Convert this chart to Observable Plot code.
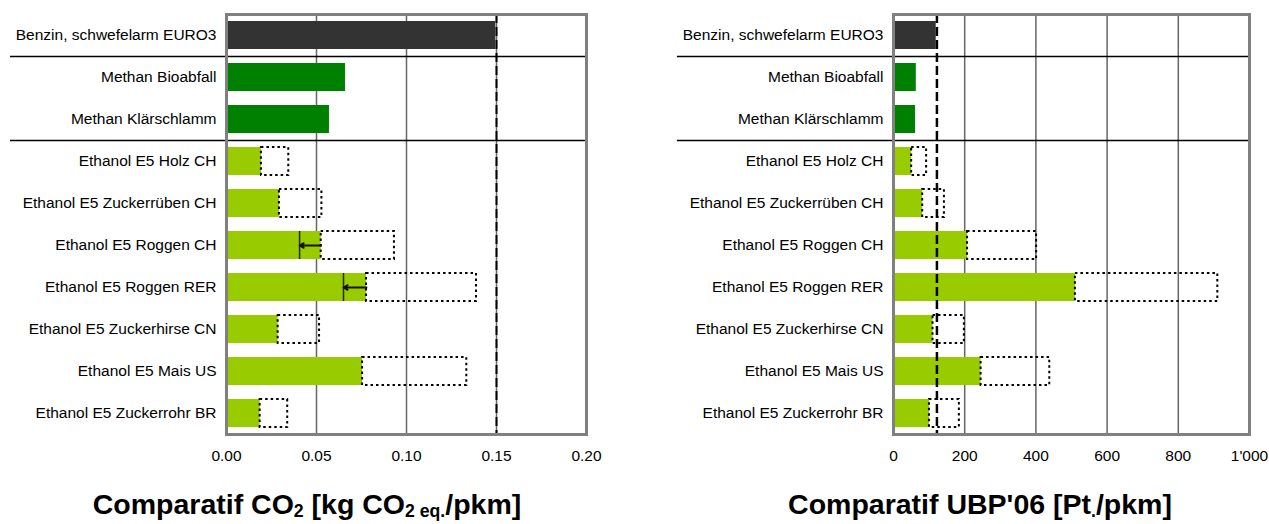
<!DOCTYPE html>
<html>
<head>
<meta charset="utf-8">
<script src="https://cdn.jsdelivr.net/npm/d3@7"></script>
<script src="https://cdn.jsdelivr.net/npm/@observablehq/plot@0.6"></script>
<style>
  html, body { margin: 0; padding: 0; background: #fff; }
  #wrap { position: relative; width: 1269px; height: 524px; overflow: hidden; font-family: "Liberation Sans", Arial, sans-serif; }
  .panel { position: absolute; top: 0; }
  .title { position: absolute; top: 489px; font-weight: bold; font-size: 28.5px; line-height: 30px; white-space: nowrap; transform: translateX(-50%); color: #000; }
  .title sub { font-size: 0.62em; vertical-align: -0.18em; line-height: 0; }
</style>
</head>
<body>
<div id="wrap">
  <div class="panel" id="left" style="left:0px"></div>
  <div class="panel" id="right" style="left:640px"></div>
  <div class="title" style="left:307px">Comparatif CO<sub>2</sub> [kg CO<sub>2 eq.</sub>/pkm]</div>
  <div class="title" style="left:980px">Comparatif UBP'06 [Pt<sub>.</sub>/pkm]</div>
</div>
<script>
// ---- data ----
const categories = [
  "Benzin, schwefelarm EURO3",
  "Methan Bioabfall",
  "Methan Klärschlamm",
  "Ethanol E5 Holz CH",
  "Ethanol E5 Zuckerrüben CH",
  "Ethanol E5 Roggen CH",
  "Ethanol E5 Roggen RER",
  "Ethanol E5 Zuckerhirse CN",
  "Ethanol E5 Mais US",
  "Ethanol E5 Zuckerrohr BR"
];
const groups = ["fossil", "methan", "methan", "ethanol", "ethanol", "ethanol", "ethanol", "ethanol", "ethanol", "ethanol"];

const co2Values = [0.1496, 0.0661, 0.0572, 0.0194, 0.0294, 0.0526, 0.0778, 0.0287, 0.0756, 0.0187];
const co2Upper  = [null, null, null, 0.0346, 0.0530, 0.0933, 0.1389, 0.0517, 0.1335, 0.0340];
const co2Arrow  = [null, null, null, null, null, 0.0406, 0.0650, null, null, null];
const co2Reference = 0.15;
const co2Ticks = [0, 0.05, 0.10, 0.15, 0.20];

const ubpValues = [120, 64, 62, 51, 82, 208, 511, 111, 246, 101];
const ubpUpper  = [null, null, null, 93, 143, 402, 911, 199, 439, 185];
const ubpReference = 122;
const ubpTicks = [0, 200, 400, 600, 800, 1000];

// separators: boundaries above these categories
const separatorsBefore = ["Methan Bioabfall", "Ethanol E5 Holz CH"];

const groupColors = {fossil: "#333333", methan: "#008000", ethanol: "#99CC00"};

// ---- build tables ----
function table(values, upper, arrow) {
  return categories.map((c, i) => ({
    cat: c, group: groups[i], value: values[i],
    upper: upper[i], arrow: arrow ? arrow[i] : null
  }));
}

function panel({data, domain, ticks, tickFormat, reference, width, marginLeft, marginRight, sepStart, refWidth}) {
  const withUpper = data.filter(d => d.upper != null);
  const withArrow = data.filter(d => d.arrow != null);
  return Plot.plot({
    width, height: 475,
    marginLeft, marginRight, marginTop: 14, marginBottom: 41,
    style: {fontFamily: "'Liberation Sans', Arial, sans-serif", fontSize: "15.5px", color: "#000", background: "#fff"},
    x: {domain, ticks, tickFormat, tickSize: 0, tickPadding: 15, label: null},
    y: {domain: categories, paddingInner: 1/3, paddingOuter: 1/6, tickSize: 0, tickPadding: 10, label: null},
    marks: [
      Plot.ruleX(ticks.slice(1, -1), {stroke: "#666", strokeWidth: 1.5}),
      Plot.barX(data, {y: "cat", x: "value", fill: d => groupColors[d.group]}),
      Plot.barX(withUpper, {y: "cat", x1: "value", x2: "upper", fill: "none", stroke: "#000", strokeWidth: 2, strokeDasharray: "2.5,3"}),
      Plot.tickX(withArrow, {y: "cat", x: "arrow", stroke: "#1f2a00", strokeWidth: 1.5}),
      Plot.arrow(withArrow, {y1: "cat", y2: "cat", x1: "value", x2: "arrow", stroke: "#111", strokeWidth: 1.8, headLength: 4, bend: 0}),
      Plot.ruleY(separatorsBefore, {y: d => d, x1: sepStart, x2: domain[1], dy: -21, stroke: "#000", strokeWidth: 1.5}),
      Plot.ruleX([reference], {stroke: "#000", strokeWidth: refWidth, strokeDasharray: "9,4"}),
      Plot.frame({stroke: "#808080", strokeWidth: 3})
    ]
  });
}

const leftChart = panel({
  data: table(co2Values, co2Upper, co2Arrow),
  domain: [0, 0.2], ticks: co2Ticks, tickFormat: d3.format(".2f"),
  reference: co2Reference,
  width: 620, marginLeft: 226, marginRight: 34,
  sepStart: -0.12, refWidth: 2
});
document.getElementById("left").appendChild(leftChart);

const apostrophe = d => d3.format(",")(d).replace(/,/g, "'");
const rightChart = panel({
  data: table(ubpValues, ubpUpper, null),
  domain: [0, 1000], ticks: ubpTicks, tickFormat: apostrophe,
  reference: ubpReference,
  width: 629, marginLeft: 253, marginRight: 20,
  sepStart: -607, refWidth: 2.5
});
document.getElementById("right").appendChild(rightChart);
</script>
</body>
</html>
